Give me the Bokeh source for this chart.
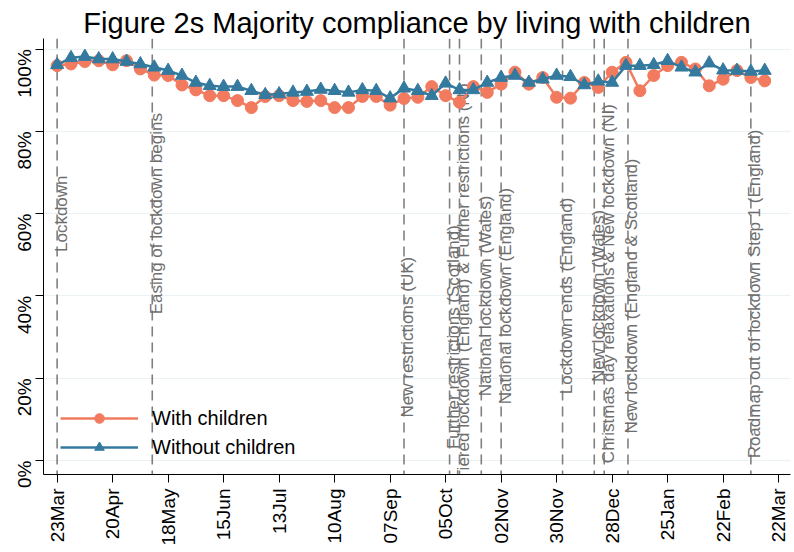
import math
from datetime import datetime
import pandas as pd
from bokeh.plotting import figure
from bokeh.models import (ColumnDataSource, Span, FixedTicker, DatetimeTickFormatter,
                          Legend, LegendItem, Range1d)
from bokeh.core.properties import value
from bokeh.embed import file_html
from bokeh.resources import INLINE

# ---------------- data ----------------
week_start = "2020-03-23"
with_children = [96.0, 96.4, 97.0, 97.2, 96.2, 97.2, 95.2, 93.7, 93.6, 91.3,
                 90.1, 88.7, 88.7, 87.5, 85.8, 88.5, 88.7, 87.5, 87.3, 87.5,
                 85.8, 85.8, 88.5, 88.5, 86.4, 88.0, 88.3, 90.9, 88.7, 87.1,
                 90.9, 89.5, 91.5, 94.4, 91.5, 93.1, 88.3, 88.1, 91.9, 90.7,
                 94.4, 96.8, 89.9, 93.6, 96.0, 96.8, 95.2, 91.1, 92.7, 94.8,
                 93.1, 92.3]
without_children = [96.2, 97.9, 98.2, 97.6, 97.6, 97.0, 96.4, 95.6, 94.8, 93.6,
                    91.9, 91.1, 90.9, 90.9, 89.9, 88.9, 89.1, 89.5, 89.7, 90.2,
                    89.9, 89.5, 90.1, 89.9, 88.1, 90.5, 89.9, 88.7, 91.7, 90.1,
                    90.1, 91.9, 93.1, 93.6, 91.9, 92.7, 93.6, 93.3, 91.3, 92.2,
                    91.9, 96.0, 96.0, 96.2, 97.2, 95.6, 94.4, 96.6, 94.9, 94.8,
                    94.6, 94.8]

event_dates = ["2020-03-23", "2020-05-10", "2020-09-14", "2020-10-07", "2020-10-12",
               "2020-10-23", "2020-11-02", "2020-12-03", "2020-12-19", "2020-12-24",
               "2021-01-05", "2021-03-08"]
event_labels = ["Lockdown",
                "Easing of lockdown begins",
                "New restrictions (UK)",
                "Further restrictions (Scotland)",
                "Tiered lockdown (England) & Further restrictions (NI)",
                "National lockdown (Wales)",
                "National lockdown (England)",
                "Lockdown ends (England)",
                "New lockdown (Wales)",
                "Christmas day relaxations & New lockdown (NI)",
                "New lockdown (England & Scotland)",
                "Roadmap out of lockdown Step 1 (England)"]
# vertical centre of each event label (in %)
event_label_y = [60, 60, 30, 30, 43.5, 40, 40, 40, 40, 43, 40, 40.5]

x_tick_dates = ["2020-03-23", "2020-04-20", "2020-05-18", "2020-06-15", "2020-07-13",
                "2020-08-10", "2020-09-07", "2020-10-05", "2020-11-02", "2020-11-30",
                "2020-12-28", "2021-01-25", "2021-02-22", "2021-03-22"]
y_ticks = [0, 20, 40, 60, 80, 100]
y_tick_labels = ["0%", "20%", "40%", "60%", "80%", "100%"]

series_names = ["With children", "Without children"]

# ---------------- style ----------------
FONT = "Liberation Sans"
ORANGE = "#F27B5F"
BLUE = "#347A9F"

def to_ms(d):
    return pd.Timestamp(d).value / 1e6

dates = pd.date_range(week_start, periods=len(with_children), freq="7D")

p = figure(width=794, height=552, x_axis_type="datetime",
           output_backend="svg", toolbar_location=None,
           x_range=Range1d(datetime(2020, 3, 16, 3), datetime(2021, 3, 28)),
           y_range=Range1d(-3.4, 102.6),
           min_border_left=43, min_border_right=4, min_border_top=38,
           min_border_bottom=78)

p.title.text = "Figure 2s Majority compliance by living with children"
p.title.align = "center"
p.title.text_font = FONT
p.title.text_font_size = "29px"
p.title.text_font_style = "normal"
p.title.text_color = "#000000"
p.title.standoff = 0

p.outline_line_color = None
p.background_fill_color = "white"
p.xgrid.grid_line_color = None
p.ygrid.grid_line_color = "#EAF2F3"
p.ygrid.grid_line_width = 1.2

# axes
p.xaxis.ticker = FixedTicker(ticks=[to_ms(d) for d in x_tick_dates])
p.xaxis.formatter = DatetimeTickFormatter(days="%d%b", months="%d%b", years="%d%b",
                                          strip_leading_zeros=False)
p.yaxis.ticker = FixedTicker(ticks=y_ticks)
p.yaxis.major_label_overrides = {t: l for t, l in zip(y_ticks, y_tick_labels)}

for ax in (p.xaxis[0], p.yaxis[0]):
    ax.major_label_orientation = math.pi / 2
    ax.major_label_text_font = FONT
    ax.major_label_text_font_size = "19px"
    ax.major_label_text_color = "#000000"
    ax.axis_line_color = "#000000"
    ax.axis_line_width = 1
    ax.major_tick_line_color = "#000000"
    ax.major_tick_out = 8
    ax.major_tick_in = 0
    ax.minor_tick_line_color = None
p.xaxis.major_label_standoff = 6
p.yaxis.major_label_standoff = 11

# event lines
for d in event_dates:
    p.add_layout(Span(location=to_ms(d), dimension="height", line_color="#808080",
                      line_dash="10 6", line_width=1.6, level="underlay"))

ev_src = ColumnDataSource(dict(x=pd.to_datetime(event_dates), y=event_label_y,
                               text=event_labels))
p.text(x="x", y="y", text="text", source=ev_src, angle=math.pi / 2,
       text_align="center", text_baseline="middle", x_offset=4,
       text_font=value(FONT), text_font_size="17px", text_color="#6e6e6e")

# series
l1 = p.line(dates, with_children, line_color=ORANGE, line_width=2.5)
s1 = p.scatter(dates, with_children, marker="circle", size=12,
               fill_color=ORANGE, line_color=ORANGE)
l2 = p.line(dates, without_children, line_color=BLUE, line_width=2.5)
s2 = p.scatter(dates, without_children, marker="triangle", size=13,
               fill_color=BLUE, line_color=BLUE)

legend = Legend(items=[LegendItem(label=series_names[0], renderers=[l1, s1]),
                       LegendItem(label=series_names[1], renderers=[l2, s2])],
                location=(17, 15), glyph_width=78, glyph_height=24, label_height=24,
                spacing=5, padding=0, label_standoff=14,
                label_text_font=FONT, label_text_font_size="20px",
                label_text_color="#000000",
                background_fill_alpha=0, border_line_alpha=0)
p.add_layout(legend)

open("out.html", "w").write(file_html(p, INLINE))
